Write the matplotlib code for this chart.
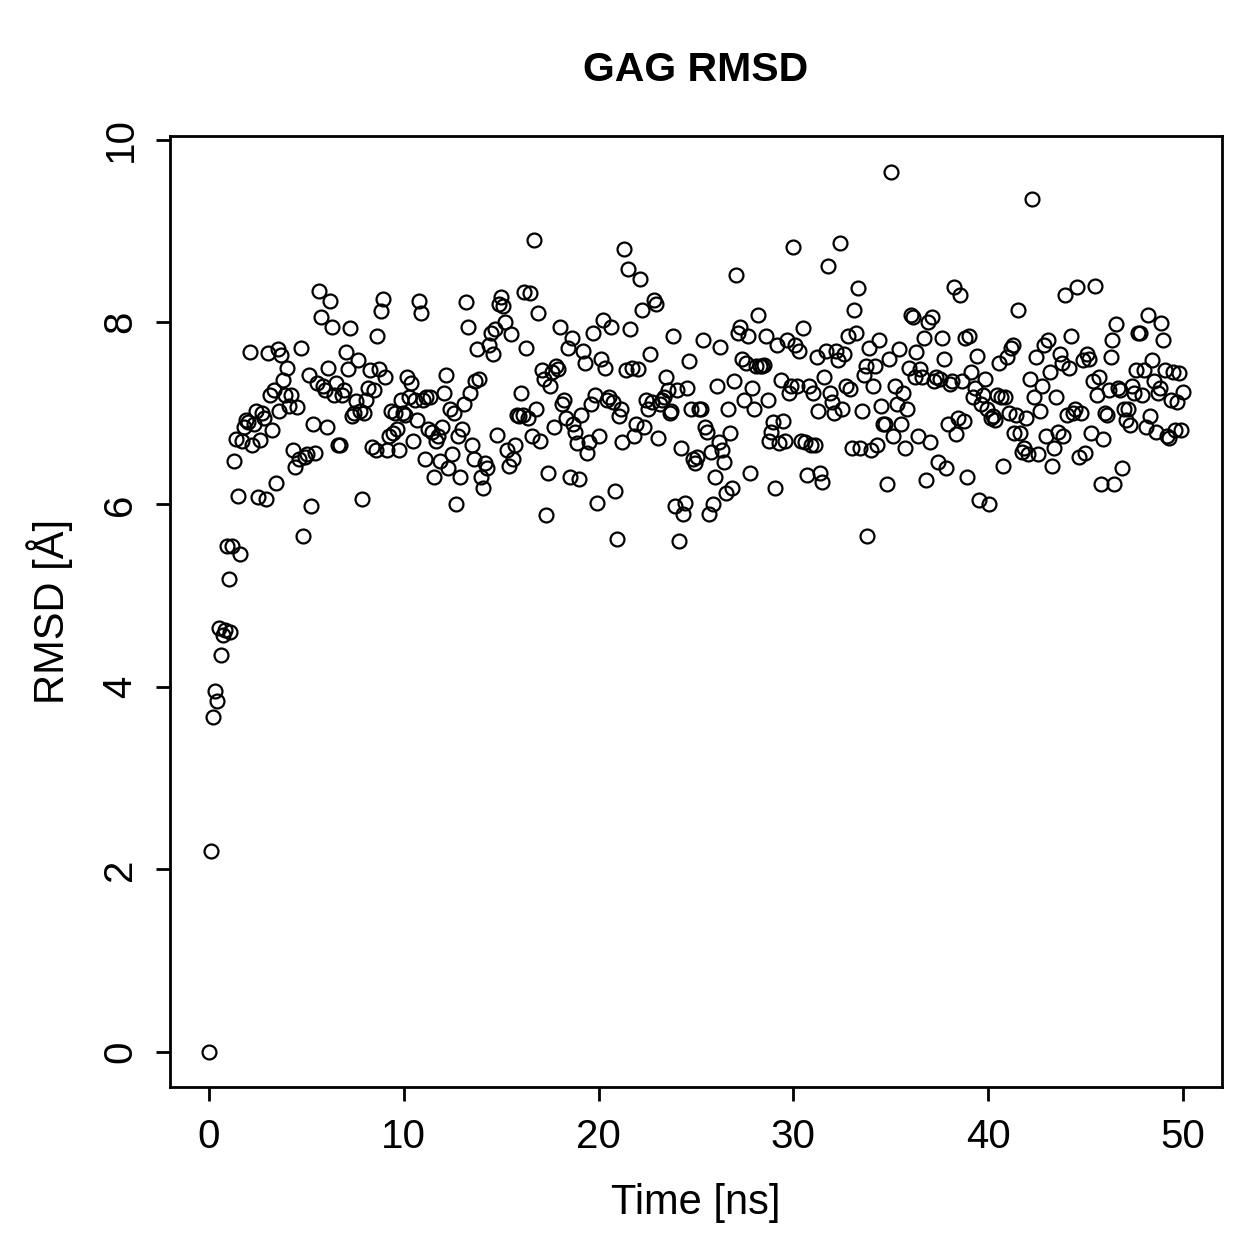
import numpy as np
import matplotlib
matplotlib.use("Agg")
import matplotlib.pyplot as plt

plt.rcParams['font.family'] = ['Liberation Sans', 'DejaVu Sans']

title = "GAG RMSD"
xlabel = "Time [ns]"
ylabel = "RMSD [Å]"
xticks = [0, 10, 20, 30, 40, 50]
yticks = [0, 2, 4, 6, 8, 10]

rmsd = [
    0.0, 2.2, 3.67, 3.95, 3.85, 4.65, 4.35, 4.57, 4.62, 5.55, 5.18, 4.6, 5.55, 6.48, 6.72, 6.09, 5.46,
    6.7, 6.85, 6.93, 6.9, 7.67, 6.65, 6.88, 7.02, 6.08, 6.71, 7.0, 6.95, 6.06, 7.66, 7.2, 6.82, 7.25,
    6.24, 7.7, 7.03, 7.64, 7.37, 7.2, 7.5, 7.08, 7.2, 6.6, 6.41, 7.07, 6.5, 7.72, 5.65, 6.52, 6.55,
    7.42, 5.98, 6.88, 6.56, 7.33, 8.34, 8.06, 7.3, 7.25, 6.85, 7.5, 8.23, 7.95, 7.2, 7.33, 6.65, 6.65,
    7.2, 7.25, 7.67, 7.48, 7.94, 6.97, 7.0, 7.14, 7.58, 7.03, 6.06, 7.0, 7.15, 7.28, 7.47, 6.63, 7.25,
    6.6, 7.85, 7.48, 8.12, 8.25, 7.4, 6.6, 6.75, 7.02, 6.78, 7.0, 6.83, 6.6, 7.15, 7.0, 6.98, 7.4,
    7.18, 7.33, 6.7, 7.15, 6.93, 8.23, 8.1, 7.15, 6.5, 7.18, 6.83, 7.18, 6.8, 6.3, 6.7, 6.75, 6.48,
    6.85, 7.22, 7.42, 6.4, 7.05, 6.55, 7.0, 6.0, 6.75, 6.3, 6.83, 7.1, 8.22, 7.95, 7.22, 6.65, 6.5,
    7.35, 7.7, 7.38, 6.3, 6.18, 6.45, 6.4, 7.75, 7.88, 7.65, 7.92, 6.76, 8.2, 8.28, 8.18, 8.0, 6.6,
    6.42, 7.87, 6.5, 6.65, 6.98, 6.97, 7.22, 6.98, 8.33, 7.72, 6.95, 8.32, 6.75, 8.9, 7.05, 8.1, 6.7,
    7.47, 7.38, 5.88, 6.35, 7.3, 7.45, 6.85, 7.52, 7.48, 7.95, 7.1, 7.15, 6.95, 7.72, 6.3, 7.82, 6.88,
    6.8, 6.67, 6.28, 6.98, 7.68, 7.55, 6.57, 6.68, 7.1, 7.88, 7.2, 6.02, 6.75, 7.6, 8.02, 7.5, 7.15,
    7.18, 7.95, 7.12, 6.15, 5.62, 6.97, 7.05, 6.68, 8.8, 7.47, 8.58, 7.92, 7.5, 6.75, 6.88, 7.48, 8.47,
    8.13, 6.85, 7.15, 7.05, 7.65, 7.12, 8.24, 8.2, 6.73, 7.1, 7.15, 7.18, 7.4, 7.25, 7.0, 7.02, 7.85,
    5.98, 7.25, 5.6, 6.62, 5.9, 6.02, 7.28, 7.57, 7.05, 6.5, 6.45, 6.52, 7.05, 7.05, 7.8, 6.85, 6.8,
    5.9, 6.58, 6.0, 6.3, 7.3, 6.68, 7.73, 6.6, 6.47, 6.13, 7.05, 6.78, 6.18, 7.35, 8.52, 7.88, 7.95,
    7.6, 7.15, 7.55, 7.85, 6.35, 7.28, 7.05, 7.52, 8.08, 7.52, 7.52, 7.53, 7.85, 7.15, 6.7, 6.8, 6.9,
    6.18, 7.75, 6.67, 7.37, 6.92, 6.7, 7.8, 7.22, 7.3, 8.82, 7.75, 7.3, 7.68, 6.7, 7.93, 6.68, 6.32,
    7.3, 6.65, 7.22, 6.65, 7.62, 7.02, 6.35, 6.25, 7.4, 7.68, 8.62, 7.22, 7.12, 7.0, 7.68, 7.58, 8.87,
    7.05, 7.65, 7.3, 7.85, 7.27, 6.62, 8.13, 7.88, 8.37, 6.62, 7.03, 7.42, 7.52, 5.66, 7.72, 6.6, 7.3,
    7.52, 6.65, 7.8, 7.08, 6.88, 6.88, 6.22, 7.6, 9.65, 6.75, 7.3, 7.1, 7.7, 6.88, 7.22, 6.62, 7.05,
    7.5, 8.08, 8.05, 7.4, 7.67, 6.75, 7.48, 7.4, 7.82, 6.27, 8.0, 6.68, 8.05, 7.35, 7.4, 6.47, 7.38,
    7.82, 7.6, 6.4, 6.88, 7.32, 7.35, 8.38, 6.77, 6.95, 8.3, 7.35, 6.92, 7.82, 6.3, 7.85, 7.45, 7.18,
    7.28, 7.63, 6.05, 7.1, 7.2, 7.38, 7.05, 6.0, 6.95, 6.97, 6.93, 7.2, 7.55, 7.18, 6.42, 7.18, 7.62,
    7.0, 7.72, 7.75, 6.78, 6.98, 8.13, 6.78, 6.58, 6.62, 6.95, 6.55, 7.38, 9.35, 7.18, 7.62, 6.55,
    7.02, 7.3, 7.75, 6.75, 7.8, 7.45, 6.42, 6.62, 7.18, 6.8, 7.65, 7.55, 6.75, 8.3, 6.98, 7.5, 7.85,
    7.0, 7.05, 8.38, 6.52, 7.0, 7.58, 6.57, 7.65, 7.6, 6.78, 7.35, 8.4, 7.2, 7.4, 6.22, 6.72, 7.0,
    6.98, 7.25, 7.62, 7.8, 6.22, 7.98, 7.28, 7.25, 6.4, 7.05, 6.93, 7.05, 6.87, 7.3, 7.22, 7.47, 7.88,
    7.88, 7.2, 7.47, 6.85, 8.08, 6.97, 7.58, 7.35, 6.8, 7.22, 7.28, 7.99, 7.8, 7.47, 6.75, 6.73, 7.15,
    7.45, 6.82, 7.12, 7.44, 6.82, 7.23,
]
time = np.linspace(0, 50, len(rmsd))

fig = plt.figure(figsize=(12.59, 12.59), dpi=100)
ax = fig.add_axes([0.135, 0.1366, 0.8356, 0.7554])
ax.plot(time, rmsd, linestyle='none', marker='o', markersize=10,
        markerfacecolor='none', markeredgecolor='black', markeredgewidth=1.6)

ax.set_xlim(-2, 52)
ax.set_ylim(-0.386, 10.04)
ax.set_xticks(xticks)
ax.set_yticks(yticks)
ax.set_yticklabels([str(v) for v in yticks], rotation=90, va='center')
ax.tick_params(axis='x', direction='out', length=10, width=2.0, labelsize=29, pad=12)
ax.tick_params(axis='y', direction='out', length=10, width=2.0, labelsize=29, pad=12)
for s in ax.spines.values():
    s.set_linewidth(2.0)

ax.set_xlabel(xlabel, fontsize=30, va='center')
ax.xaxis.set_label_coords(0.5, (1087 - 1203) / 951)
ax.set_ylabel(ylabel, fontsize=30, va='center')
ax.yaxis.set_label_coords((50 - 170) / 1052, 0.5)
fig.text(696 / 1259, 1 - 70 / 1259, title, fontsize=29.5, fontweight='bold',
         ha='center', va='center')

fig.savefig("out.png", dpi=100)
